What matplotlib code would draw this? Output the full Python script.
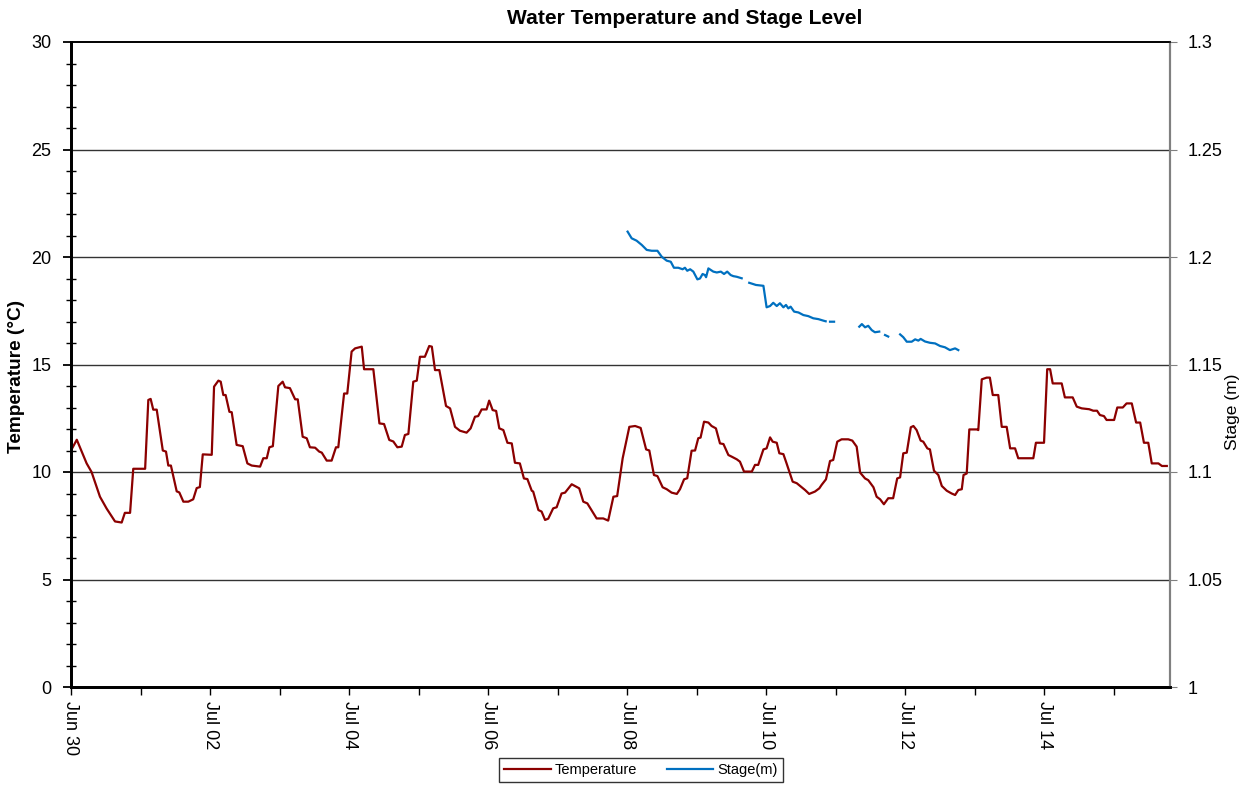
import matplotlib
matplotlib.use("Agg")
import matplotlib.pyplot as plt
import matplotlib.dates as mdates
import numpy as np
import pandas as pd

plt.rcParams['font.family'] = ['Liberation Sans', 'DejaVu Sans']

start_date = "2021-06-30 00:00"

# Temperature (hours since Jun 30 00:00, degC)
temp_hours = [0, 2.0, 5.4, 7.1, 10.0, 12.3, 15.2, 17.5, 18.6, 20.4, 21.5, 25.6, 26.7, 27.5, 28.4, 29.6,
              31.7, 32.8, 33.6, 34.5, 36.5, 37.4, 38.8, 40.5, 42.2, 43.4, 44.5, 45.5, 48.6, 49.4, 50.9,
              51.7, 52.6, 53.4, 54.7, 55.5, 57.2, 59.3, 60.9, 62.4, 65.3, 66.4, 67.6, 68.5, 69.7, 71.6,
              73.1, 73.9, 75.6, 77.4, 78.3, 80.0, 81.4, 82.5, 84.3, 85.7, 86.6, 88.3, 90.0, 91.5, 92.3,
              94.3, 95.4, 96.9, 98.1, 100.4, 101.2, 104.4, 106.5, 108.1, 109.9, 111.3, 112.7, 114.2,
              115.3, 116.5, 118.2, 119.4, 120.5, 122.2, 123.7, 124.6, 125.7, 127.2, 129.5, 130.9, 132.6,
              134.3, 136.6, 138.0, 139.5, 140.6, 141.8, 143.5, 144.4, 145.6, 146.8, 147.9, 149.3, 150.7,
              152.2, 153.3, 155.0, 156.4, 157.6, 159.1, 159.6, 161.4, 162.5, 163.7, 164.8, 166.5, 167.7,
              169.4, 170.6, 172.9, 174.0, 175.5, 176.9, 178.3, 181.5, 183.8, 185.5, 187.3, 188.6, 190.5,
              192.8, 194.8, 196.7, 198.6, 199.7, 201.3, 202.5, 204.3, 205.7, 207.4, 209.2, 210.3, 211.7,
              212.8, 214.3, 215.5, 216.6, 217.4, 218.6, 220.1, 221.2, 222.7, 224.1, 225.3, 227.0, 228.2,
              229.9, 231.0, 232.4, 235.1, 236.2, 237.3, 239.1, 240.2, 241.4, 242.3, 243.7, 244.6, 246.0,
              247.1, 249.2, 250.6, 252.3, 253.5, 254.9, 256.9, 258.4, 259.2, 260.7, 262.1, 263.2, 264.6,
              266.1, 268.4, 269.8, 271.3, 272.5, 274.2, 275.3, 277.1, 278.2, 279.4, 280.7, 282.2, 283.9,
              285.3, 286.3, 287.4, 288.6, 290.0, 290.9, 292.0, 293.4, 294.3, 295.7, 296.6, 298.0, 299.5,
              300.7, 302.4, 304.1, 305.3, 306.4, 307.6, 308.2, 309.3, 310.2, 312.8, 313.3, 314.5, 316.2,
              317.3, 318.3, 320.2, 321.4, 323.1, 324.3, 326.0, 327.1, 332.3, 333.2, 336.0, 337.1, 338.1,
              339.0, 342.1, 343.2, 345.9, 347.3, 349.0, 351.6, 353.0, 354.3, 355.3, 356.7, 357.6, 360.2,
              361.3, 363.2, 364.5, 366.3, 367.8, 369.2, 370.5, 372.0, 373.2, 375.5, 376.7, 378.4]
temp_values = [11.0, 11.5, 10.4, 10.0, 8.85, 8.3, 7.7, 7.65, 8.1, 8.1, 10.15, 10.15, 13.35, 13.4, 12.9, 12.9,
               11.0, 10.95, 10.3, 10.3, 9.1, 9.05, 8.62, 8.62, 8.73, 9.25, 9.3, 10.82, 10.8, 13.97, 14.25,
               14.2, 13.58, 13.58, 12.8, 12.78, 11.26, 11.2, 10.4, 10.3, 10.25, 10.64, 10.64, 11.15, 11.2, 14.0,
               14.2, 13.94, 13.9, 13.38, 13.38, 11.64, 11.57, 11.15, 11.13, 10.95, 10.9, 10.53, 10.53, 11.15, 11.15,
               13.65, 13.65, 15.6, 15.75, 15.83, 14.78, 14.78, 12.26, 12.23, 11.49, 11.42, 11.15, 11.18,
               11.72, 11.77, 14.2, 14.25, 15.36, 15.36, 15.86, 15.83, 14.74, 14.74, 13.07, 12.96, 12.1,
               11.92, 11.83, 12.03, 12.57, 12.6, 12.91, 12.91, 13.32, 12.88, 12.84, 12.03, 11.95, 11.36,
               11.33, 10.43, 10.4, 9.7, 9.67, 9.13, 9.09, 8.23, 8.16, 7.77, 7.83, 8.31, 8.36,
               9.0, 9.04, 9.43, 9.35, 9.24, 8.62, 8.54, 7.84, 7.84, 7.74, 8.85, 8.88, 10.64,
               12.1, 12.14, 12.05, 11.05, 11.0, 9.86, 9.81, 9.29, 9.2, 9.04, 8.98, 9.2, 9.66,
               9.71, 10.99, 11.0, 11.57, 11.6, 12.34, 12.3, 12.14, 12.03, 11.33, 11.3, 10.79, 10.71,
               10.59, 10.48, 10.02, 10.02, 10.33, 10.33, 11.05, 11.1, 11.61, 11.41, 11.36, 10.87, 10.83,
               10.4, 9.55, 9.48, 9.29, 9.16, 8.98, 9.09, 9.24, 9.4, 9.66, 10.51, 10.56, 11.41,
               11.52, 11.52, 11.46, 11.18, 9.97, 9.7, 9.62, 9.29, 8.85, 8.73, 8.5, 8.78, 8.78,
               9.7, 9.75, 10.87, 10.9, 12.08, 12.14, 11.95, 11.46, 11.41, 11.1, 11.05, 10.06, 9.86,
               9.35, 9.13, 9.0, 8.93, 9.16, 9.2, 9.86, 9.93, 11.98, 11.98, 11.95, 14.31, 14.39,
               14.39, 13.58, 13.58, 12.1, 12.1, 11.1, 11.1, 10.64, 10.64, 11.36, 11.36, 14.78, 14.78,
               14.12, 14.12, 13.47, 13.47, 13.04, 12.96, 12.92, 12.85, 12.85, 12.65, 12.6, 12.42, 12.42,
               13.0, 13.0, 13.19, 13.19, 12.3, 12.3, 11.36, 11.36, 10.4, 10.4, 10.28, 10.28]

# Stage (hours since Jun 30 00:00, m); NaN marks gaps in the record
stage_hours = [192.2, 193.6, 195.3, 197.1, 198.8, 200.5, 202.5, 204.0, 205.7, 207.1, 208.2, 209.7, 211.2,
               212.0, 212.8, 213.8, 214.9, 216.3, 217.2, 218.1, 218.9, 219.3, 220.1, 221.8, 223.0, 224.4,
               225.5, 226.6, 227.8, 228.7, 229.9, 231.6, 232.9,
               234.2, 235.6, 236.5, 239.1, 240.2, 241.4, 242.5, 243.7, 244.8, 246.0, 246.9, 247.7, 248.5,
               249.7, 251.2, 252.9, 254.6, 256.3, 258.1, 259.8, 260.6, 261.3,
               262.1, 263.5, 268.0,
               272.2, 273.1, 274.2, 275.3, 276.5, 277.6, 279.1, 280.1,
               281.1, 282.2, 284.0,
               286.3, 287.4, 288.6, 290.3, 291.5, 292.6, 293.4, 294.9, 296.6, 298.4, 300.1, 301.8, 303.5,
               305.3, 306.4]
stage_values = [1.2118, 1.2087, 1.2076, 1.2056, 1.2033, 1.2029, 1.2029, 1.2001, 1.1983, 1.1978, 1.1950, 1.1950, 1.1943,
                1.1950, 1.1936, 1.1943, 1.1932, 1.1896, 1.1900, 1.1921, 1.1916, 1.1906, 1.1947, 1.1932, 1.1928, 1.1932,
                1.1921, 1.1932, 1.1916, 1.1911, 1.1908, 1.1901, np.nan,
                1.1880, 1.1874, 1.1870, 1.1866, 1.1766, 1.1772, 1.1787, 1.1772, 1.1785, 1.1766, 1.1777, 1.1761, 1.1769,
                1.1746, 1.1742, 1.1730, 1.1725, 1.1715, 1.1711, 1.1704, 1.1701, np.nan,
                1.1699, 1.1699, np.nan,
                1.1676, 1.1688, 1.1673, 1.1680, 1.1660, 1.1650, 1.1653, np.nan,
                1.1637, 1.1630, np.nan,
                1.1640, 1.1627, 1.1606, 1.1606, 1.1617, 1.1611, 1.1619, 1.1607, 1.1601, 1.1598, 1.1586, 1.1580, 1.1567,
                1.1575, 1.1567]

x_end_hours = 379.5

base = pd.Timestamp(start_date)
temp_t = base + pd.to_timedelta(temp_hours, unit="h")
stage_t = base + pd.to_timedelta(stage_hours, unit="h")

fig = plt.figure(figsize=(12.55, 7.86), dpi=100)
ax = fig.add_axes([71/1255, 1-687/786, (1170-71)/1255, (687-42)/786])
ax2 = ax.twinx()

ax.plot(temp_t, temp_values, color="#8B0000", lw=1.6, label="Temperature", zorder=3,
        solid_joinstyle="round")
ax2.plot(stage_t, stage_values, color="#0070C0", lw=1.6, label="Stage(m)", zorder=3,
         solid_joinstyle="round")

ax.set_xlim(base, base + pd.Timedelta(hours=x_end_hours))
ax.set_ylim(0, 30)
ax2.set_ylim(1.0, 1.3)

# grid
for yv in [5, 10, 15, 20, 25]:
    ax.axhline(yv, color="#333333", lw=1.0, zorder=1)

ax.set_yticks([0, 5, 10, 15, 20, 25, 30])
ax.yaxis.set_minor_locator(matplotlib.ticker.MultipleLocator(1))
ax.tick_params(axis="y", which="major", direction="out", length=6, width=1.3, labelsize=13, pad=8)
ax.tick_params(axis="y", which="minor", direction="inout", length=7, width=1.0)

ax.xaxis.set_major_locator(mdates.DayLocator(interval=2))
ax.xaxis.set_minor_locator(mdates.DayLocator())
ax.xaxis.set_major_formatter(mdates.DateFormatter("%b %d"))
ax.tick_params(axis="x", which="both", direction="out", length=6, width=1.0)
ax.tick_params(axis="x", which="major", labelsize=13, pad=4)
for lab in ax.get_xticklabels():
    lab.set_rotation(-90)
    lab.set_ha("center")
    lab.set_va("top")

ax2.set_yticks([1.0, 1.05, 1.1, 1.15, 1.2, 1.25, 1.3])
ax2.set_yticklabels(["1", "1.05", "1.1", "1.15", "1.2", "1.25", "1.3"])
ax2.tick_params(axis="y", direction="out", length=5, color="#808080", labelsize=13, pad=8)

for a in (ax, ax2):
    a.spines["left"].set_linewidth(2)
    a.spines["left"].set_color("black")
    a.spines["bottom"].set_linewidth(2)
    a.spines["bottom"].set_color("black")
    a.spines["top"].set_linewidth(1.2)
    a.spines["top"].set_color("black")
    a.spines["right"].set_linewidth(1.5)
    a.spines["right"].set_color("#808080")

fig.text(17/1255, 1-376/786, "Temperature (°C)", fontsize=13.7, fontweight="bold",
         rotation=90, ha="center", va="center")
fig.text(1233/1255, 1-412/786, "Stage (m)", fontsize=12.5,
         rotation=90, ha="center", va="center")

fig.text(685/1255, 1-19/786, "Water Temperature and Stage Level", fontsize=15.1, fontweight="bold",
         ha="center", va="center")

h1, l1 = ax.get_legend_handles_labels()
h2, l2 = ax2.get_legend_handles_labels()
leg = fig.legend(h1 + h2, l1 + l2, loc="center", bbox_to_anchor=(641/1255, 1-770/786), ncol=2,
                 fontsize=10.5, frameon=True, fancybox=False, edgecolor="black", handlelength=3.2,
                 columnspacing=2.0, borderpad=0.35, handletextpad=0.3)
leg.get_frame().set_linewidth(1.0)

fig.savefig("out.png", dpi=100)
